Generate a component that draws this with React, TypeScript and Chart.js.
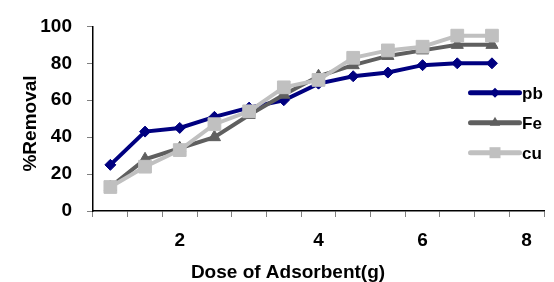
import { useEffect, useRef } from 'react';
import { Chart, registerables } from 'chart.js';

Chart.register(...registerables);

const categories = ['', '', '2', '', '', '', '4', '', '', '6', '', '', '8'];
const seriesNames = ['pb', 'Fe', 'cu'];
const pbValues = [25, 43, 45, 51, 56, 60, 69, 73, 75, 79, 80, 80];
const feValues = [13, 28, 34, 40, 52, 63, 73, 79, 84, 87, 90, 90];
const cuValues = [13, 24, 33, 47, 54, 67, 71, 83, 87, 89, 95, 95];
const xTitle = 'Dose of Adsorbent(g)';
const yTitle = '%Removal';

const colors = ['#000080', '#5f5f5f', '#c0c0c0'];
const pointStyles = ['rectRot', 'triangle', 'rect'];
const pointRadii = [5.5, 7, 9];
const AXIS_FONT = "bold 19px 'Liberation Sans', Arial, sans-serif";
const LEGEND_FONT = "bold 17px 'Liberation Sans Narrow', 'Arial Narrow', 'Liberation Sans', sans-serif";

function drawMarker(ctx: CanvasRenderingContext2D, style: string, x: number, y: number, r: number) {
  ctx.beginPath();
  if (style === 'rectRot') {
    ctx.moveTo(x, y - r);
    ctx.lineTo(x + r, y);
    ctx.lineTo(x, y + r);
    ctx.lineTo(x - r, y);
  } else if (style === 'triangle') {
    const h = r * 1.5;
    ctx.moveTo(x, y - h * 0.66);
    ctx.lineTo(x + r * 0.86, y + h * 0.34);
    ctx.lineTo(x - r * 0.86, y + h * 0.34);
  } else {
    ctx.rect(x - r, y - r, 2 * r, 2 * r);
  }
  ctx.closePath();
  ctx.fill();
}

const overlayPlugin = {
  id: 'overlayText',
  afterDraw(chart: any) {
    const ctx: CanvasRenderingContext2D = chart.ctx;
    ctx.save();
    // axis titles
    ctx.fillStyle = '#000';
    ctx.font = AXIS_FONT;
    ctx.textAlign = 'center';
    ctx.textBaseline = 'alphabetic';
    ctx.fillText(xTitle, 288, 278);
    ctx.save();
    ctx.translate(36, 123.5);
    ctx.rotate(-Math.PI / 2);
    ctx.fillText(yTitle, 0, 0);
    ctx.restore();

    // legend
    const legendYs = [92.7, 122.7, 152.7];
    const markerR = [5, 6, 5.5];
    chart.data.datasets.forEach((ds: any, i: number) => {
      const y = legendYs[i];
      ctx.strokeStyle = colors[i];
      ctx.fillStyle = colors[i];
      ctx.lineWidth = 5;
      ctx.lineCap = 'round';
      ctx.beginPath();
      ctx.moveTo(470.5, y);
      ctx.lineTo(519.5, y);
      ctx.stroke();
      drawMarker(ctx, pointStyles[i], 495, y, markerR[i]);
      ctx.fillStyle = '#000';
      ctx.font = LEGEND_FONT;
      ctx.textAlign = 'left';
      ctx.textBaseline = 'alphabetic';
      ctx.fillText(ds.label, 522, y + 6);
    });
    ctx.restore();
  },
};

export default function App() {
  const canvasRef = useRef<HTMLCanvasElement | null>(null);

  useEffect(() => {
    if (!canvasRef.current) return;
    const seriesValues = [pbValues, feValues, cuValues];
    const chart = new Chart(canvasRef.current, {
      type: 'line',
      data: {
        labels: categories,
        datasets: seriesNames.map((name, i) => ({
          label: name,
          data: seriesValues[i],
          borderColor: colors[i],
          backgroundColor: colors[i],
          pointBackgroundColor: colors[i],
          pointBorderColor: colors[i],
          pointBorderWidth: 1,
          pointStyle: pointStyles[i] as any,
          pointRadius: pointRadii[i],
          borderWidth: 4,
          tension: 0,
          fill: false,
          order: 2 - i,
        })),
      },
      options: {
        responsive: false,
        animation: false,
        events: [],
        layout: { padding: { top: 21, right: 6, left: 0, bottom: 0 } },
        plugins: {
          legend: { display: false },
          tooltip: { enabled: false },
          title: { display: false },
        },
        scales: {
          x: {
            type: 'category',
            offset: true,
            grid: {
              offset: true,
              drawOnChartArea: false,
              drawTicks: true,
              tickLength: 6,
              color: '#808080',
            },
            border: { display: true, color: '#000', width: 1.5 },
            ticks: {
              autoSkip: false,
              maxRotation: 0,
              minRotation: 0,
              padding: 12,
              color: '#000',
              font: { family: "'Liberation Sans', Arial, sans-serif", size: 19, weight: 'bold' },
            },
            afterFit: (scale: any) => {
              scale.height = 71;
            },
          },
          y: {
            min: 0,
            max: 100,
            ticks: {
              stepSize: 20,
              padding: 15,
              color: '#000',
              font: { family: "'Liberation Sans', Arial, sans-serif", size: 19, weight: 'bold' },
            },
            grid: {
              drawOnChartArea: false,
              drawTicks: true,
              tickLength: 6,
              color: '#808080',
            },
            border: { display: true, color: '#000', width: 1.5 },
            afterFit: (scale: any) => {
              scale.width = 93;
            },
          },
        },
      },
      plugins: [overlayPlugin],
    });
    return () => chart.destroy();
  }, []);

  return (
    <div style={{ position: 'fixed', left: 0, top: 0, width: 554, height: 282, background: '#fff' }}>
      <canvas ref={canvasRef} width={554} height={282} style={{ display: 'block', width: 554, height: 282 }} />
    </div>
  );
}
